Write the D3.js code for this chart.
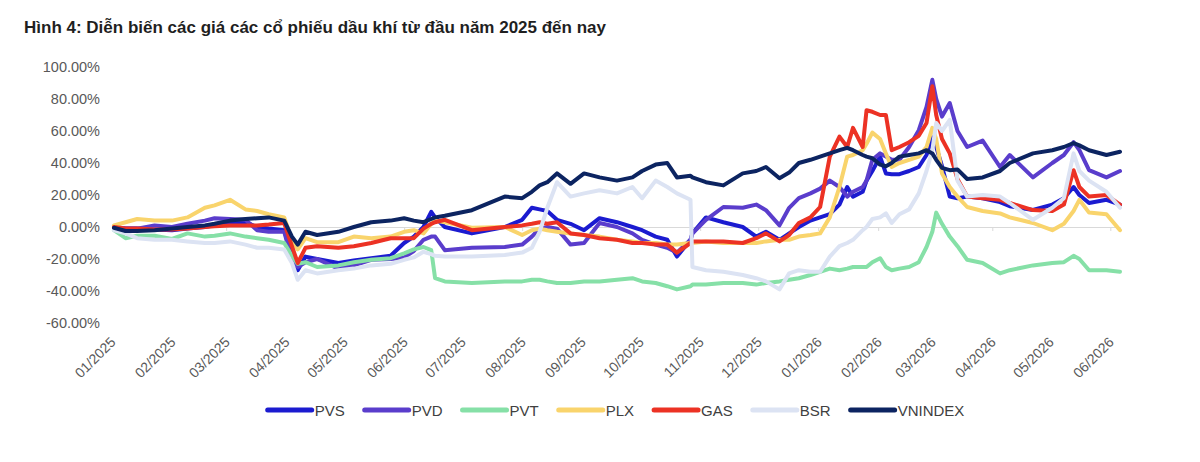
<!DOCTYPE html>
<html>
<head>
<meta charset="utf-8">
<script src="https://cdn.jsdelivr.net/npm/d3@7"></script>
<style>
  body { margin: 0; background: #fff; }
  svg text { font-family: "Liberation Sans", Arial, sans-serif; }
</style>
</head>
<body>
<svg id="chart" width="1200" height="462"></svg>
<script>
var title = "Hình 4: Diễn biến các giá các cổ phiếu dầu khí từ đầu năm 2025 đến nay";

// sample dates (roughly every 1-2 weeks, denser around the big moves)
var dates = ["2025-01-02","2025-01-08","2025-01-14","2025-01-23","2025-02-01","2025-02-09","2025-02-18","2025-02-23","2025-03-03","2025-03-11",
  "2025-03-17","2025-03-23","2025-03-31","2025-04-04","2025-04-07","2025-04-11","2025-04-17","2025-04-28","2025-05-06","2025-05-15",
  "2025-05-25","2025-06-01","2025-06-06","2025-06-11","2025-06-15","2025-06-17","2025-06-22","2025-07-06","2025-07-23","2025-08-01",
  "2025-08-06","2025-08-10","2025-08-14","2025-08-19","2025-08-26","2025-09-02","2025-09-10","2025-09-19","2025-09-27","2025-10-02",
  "2025-10-09","2025-10-15","2025-10-20","2025-10-27","2025-10-28","2025-11-04","2025-11-13","2025-11-23","2025-11-30","2025-12-05",
  "2025-12-12","2025-12-17","2025-12-22","2025-12-28","2026-01-02","2026-01-07","2026-01-12","2026-01-16","2026-01-19","2026-01-24",
  "2026-01-26","2026-01-29","2026-02-02","2026-02-05","2026-02-08","2026-02-12","2026-02-17","2026-02-22","2026-02-26","2026-03-01",
  "2026-03-03","2026-03-06","2026-03-10","2026-03-14","2026-03-19","2026-03-27","2026-04-05","2026-04-10","2026-04-22","2026-05-02",
  "2026-05-08","2026-05-13","2026-05-16","2026-05-21","2026-05-30","2026-06-06"];

// % change since start of 2025
var pvs = [0,-1,-1,-1.5,-2,-1,0,1,2,3,
  0,-1,-2,-18.5,-27,-18.5,-20,-22.5,-21,-19.5,
  -18,-10,-6,0,9.5,6,0,-4,0,4.5,
  12,11,10,4.5,2,-2,5.5,3,0,-2,
  -6,-8,-18.5,-8,-4,6,3,0,-6,-3,
  -8,-4,0,4,6,8,14,25,19,22,
  29,35,44,33.5,33,33,35,37.5,45,56,
  50,38,19,18,19,18,15.6,13,10.6,14,
  18,25,20,15,17,14];
var pvd = [0,-1,-1,1,0,2,4,5.5,5,4.5,
  -2,-3,-3,-20.5,-25,-22,-20,-26,-24,-20.5,
  -20,-19,-15,-8,-6,-6,-14.5,-13,-12.5,-11,
  -6,-1,0,-1,-11,-10,2.5,0,-4,-8,
  -11,-13,-16,-8,-4,4.5,12.5,12,14,10.5,
  1,12,18,21,24,29,25,19,22,25,
  29,42,46,44,42,42,50,60.5,75,92,
  80,69,77.5,60,50,54,37.5,45,31,40,
  45,53,48,35.5,31,35];
var pvt = [-2,-7,-5.5,-5.5,-7.5,-4,-6,-5.5,-4,-6,
  -7,-8,-10,-18,-23,-22,-25,-24,-22,-20.5,
  -19.5,-16.5,-14,-12.5,-14.5,-32,-34,-35,-34,-34,
  -33,-33,-34,-35,-35,-34,-34,-33,-32,-34,
  -35,-37,-39,-37,-36,-36,-35,-35,-36,-35,
  -34,-33,-32,-30,-28,-26,-27,-26,-25,-25,
  -25,-22,-19.5,-25,-27,-26,-25,-22,-12.5,-3,
  9,2,-6,-12,-20.5,-22.5,-29,-27,-24,-22.5,
  -22,-18,-20,-27,-27,-28];
var plx = [1,3,5,4,4,6,12,13.5,17,11,
  10,8,6,-8,-14,-7,-9.5,-9.5,-6,-7,
  -6,-3,-2,-4,2,4,3,-0.5,0,-5,
  -2,-1,-2,-3,-4,-5,-6,-8,-9,-10,
  -10,-11,-11,-10,-10,-9,-10,-10,-10,-9,
  -8,-8,-6,-5,-4,6,25,44,45,48,
  52,59,55,46,37.5,40,42,44,50,62,
  55,33.5,25,19,12.5,10,8.5,6,2.5,-2,
  2,10,17,9,8,-2];
var gas = [0,-1,-1,-1.5,-1.5,-1,0,0.5,1,1,
  1,1.5,2.5,-12,-22.5,-13,-12,-13,-12,-10,
  -7,-7,-7,-1,2,3,4.5,-2,0,1,
  2,3,2,3,-4,-5,-7,-8,-10,-10,
  -11,-11,-16,-10,-9,-9,-9,-10,-7,-4,
  -9,-5,2.5,6,12.5,44,56.5,50,62,50,
  73,72,70,70,48,50,53,57,65,88,
  70,55,46,30,19,18,17,15,10.6,10,
  14,35.5,25,19,20,14];
var bsr = [-2,-4,-7,-8,-8,-9,-10,-10,-9,-11,
  -13,-13,-14,-22.5,-33,-27,-29,-27,-26,-24,
  -23,-20.5,-19,-15.5,-17,-18,-18.5,-18.5,-17.5,-16,
  -13,-3,12,28,19,21,23,21,25,18,
  29,25,21,17,-25,-27,-28,-30,-32,-34,
  -39,-29,-27,-28,-28,-18.5,-12,-10,-8,-2,
  0,5,6,8.5,2.5,8,11,21,35,48,
  65,60,67,29,19,20,19,15,4.5,12,
  18,46,35,29,22,12];
var vnindex = [-0.5,-2.5,-2.5,-2,-1,0,1,2,4,5,
  5.5,6,4,-6,-11,-3,-5,-3,0,3,
  4,5.5,4,3,5,6,7,10.5,19,18,
  22,26,28,33.5,27,33.5,31,29,31,35,
  39,40,31,32,31,28,26,33.5,35,37.5,
  30.5,34,40,42,44,46,48,49.5,48,45,
  44,43,39,38,40,44,45,46,48,46,
  42,37,35.5,36,30,31,35,40,46,48,
  50,52.5,51,48,45,47];

var yTicks = [-60, -40, -20, 0, 20, 40, 60, 80, 100];
var monthLabels = ["01/2025","02/2025","03/2025","04/2025","05/2025","06/2025","07/2025","08/2025","09/2025",
  "10/2025","11/2025","12/2025","01/2026","02/2026","03/2026","04/2026","05/2026","06/2026"];

var series = [
  {name: "PVS", color: "#1b1bd0", values: pvs},
  {name: "PVD", color: "#5a3dcc", values: pvd},
  {name: "PVT", color: "#86e0a7", values: pvt},
  {name: "PLX", color: "#f9d46c", values: plx},
  {name: "GAS", color: "#ec3224", values: gas},
  {name: "BSR", color: "#dce3f3", values: bsr},
  {name: "VNINDEX", color: "#0c2461", values: vnindex}
];

var parseDate = d3.timeParse("%Y-%m-%d");
var parseMonth = d3.timeParse("%m/%Y");
var xDates = dates.map(parseDate);

var svg = d3.select("#chart");

// title
svg.append("text")
  .attr("x", 24).attr("y", 33)
  .attr("font-size", "17px").attr("font-weight", "bold")
  .attr("fill", "#1f1f1f")
  .text(title);

var x = d3.scaleTime()
  .domain([parseDate("2025-01-01"), parseDate("2026-06-06")])
  .range([112, 1120]);
var y = d3.scaleLinear().domain([-60, 100]).range([323, 67]);

// y axis (labels only)
svg.append("g")
  .attr("transform", "translate(112,0)")
  .call(d3.axisLeft(y).tickValues(yTicks).tickSize(0).tickPadding(12)
    .tickFormat(function (d) { return d.toFixed(2) + "%"; }))
  .call(function (g) {
    g.select(".domain").remove();
    g.selectAll("text").attr("font-size", "14.5px").attr("fill", "#595959");
  });

// x axis sits on the zero line, labels pushed down below the plot
svg.append("g")
  .attr("transform", `translate(0,${y(0)})`)
  .call(d3.axisBottom(x).tickValues(monthLabels.map(parseMonth))
    .tickSizeInner(4).tickSizeOuter(0)
    .tickFormat(d3.timeFormat("%m/%Y")))
  .call(function (g) {
    g.select(".domain").attr("stroke", "#d9d9d9");
    g.selectAll(".tick line").attr("stroke", "#d9d9d9");
    g.selectAll(".tick text")
      .attr("y", 0).attr("dy", 0)
      .attr("text-anchor", "end")
      .attr("transform", "translate(4,116) rotate(-45)")
      .attr("font-size", "14px")
      .attr("fill", "#595959");
  });

// lines
var line = d3.line()
  .x(function (d, i) { return x(xDates[i]); })
  .y(function (d) { return y(d); });

svg.append("g").selectAll("path")
  .data(series)
  .enter().append("path")
  .attr("d", function (d) { return line(d.values); })
  .attr("fill", "none")
  .attr("stroke", function (d) { return d.color; })
  .attr("stroke-width", 4)
  .attr("stroke-linejoin", "round")
  .attr("stroke-linecap", "round");

// legend, centred under the plot
var legend = svg.append("g");
var swatchW = 44, gap = 3, spacing = 20;
var items = legend.selectAll("g")
  .data(series)
  .enter().append("g");
items.append("line")
  .attr("x1", 0).attr("x2", swatchW)
  .attr("y1", 410).attr("y2", 410)
  .attr("stroke", function (d) { return d.color; })
  .attr("stroke-width", 5)
  .attr("stroke-linecap", "round");
items.append("text")
  .attr("x", swatchW + gap).attr("y", 415.5)
  .attr("font-size", "15px").attr("fill", "#404040")
  .text(function (d) { return d.name; });

var pos = 0;
items.each(function () {
  var g = d3.select(this);
  g.attr("data-x", pos);
  pos += swatchW + gap + g.select("text").node().getComputedTextLength() + spacing;
});
var total = pos - spacing;
var start = (112 + 1120) / 2 - total / 2;
items.attr("transform", function () { return `translate(${start + (+this.getAttribute("data-x"))},0)`; });
</script>
</body>
</html>
